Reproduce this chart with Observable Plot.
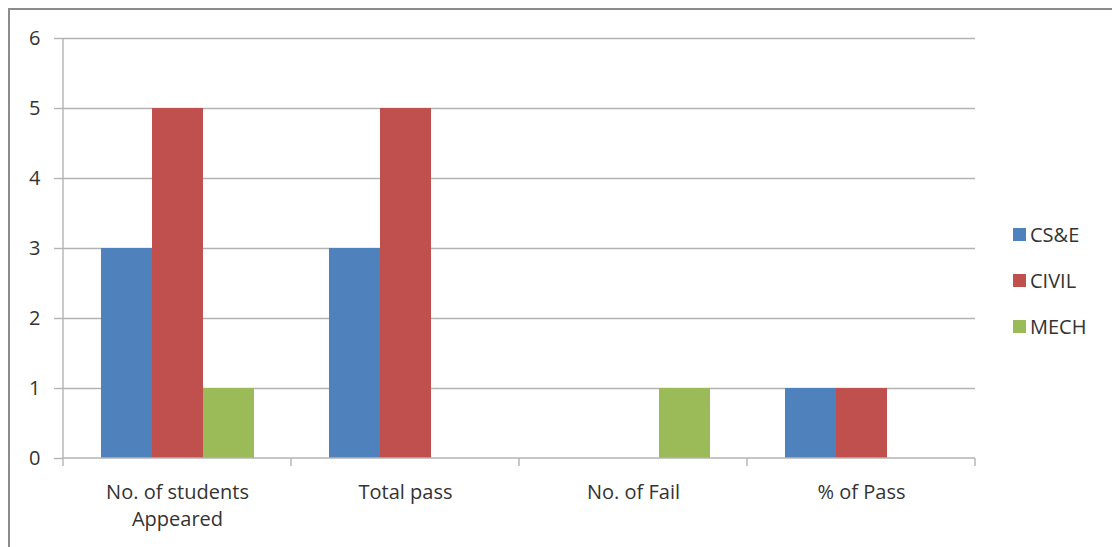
<!DOCTYPE html>
<html>
<head>
<meta charset="utf-8">
<script src="https://cdn.jsdelivr.net/npm/d3@7"></script>
<script src="https://cdn.jsdelivr.net/npm/@observablehq/plot@0.6"></script>
<style>
  html, body { margin: 0; padding: 0; background: #fff; overflow: hidden; }
  #wrap { position: relative; width: 1112px; height: 547px; overflow: hidden; font-family: "Open Sans", sans-serif; }
  #border { position: absolute; left: 8px; top: 8px; width: 1300px; height: 800px; border: 2px solid #8c8c8c; box-sizing: border-box; z-index: 5; pointer-events: none; }
  #chart { position: absolute; left: 0; top: 0; }
  #legend { position: absolute; left: 1013px; top: 211px; color: #333; font-size: 20px; z-index: 4; }
  .item { display: flex; align-items: center; height: 46px; }
  .sw { width: 13px; height: 13px; margin-right: 4px; }
</style>
</head>
<body>
<div id="wrap">
  <div id="chart"></div>
  <div id="legend"></div>
  <div id="border"></div>
</div>
<script>
const categories = ["No. of students\nAppeared", "Total pass", "No. of Fail", "% of Pass"];
const series = ["CS&E", "CIVIL", "MECH"];
const cse = [3, 3, 0, 1];
const civil = [5, 5, 0, 1];
const mech = [1, 0, 1, 0];
const colors = ["#4F81BD", "#C0504D", "#9BBB59"];
const yTicks = [0, 1, 2, 3, 4, 5, 6];

const values = [cse, civil, mech];
const data = [];
series.forEach((s, si) => categories.forEach((c, ci) => data.push({category: c, series: s, value: values[si][ci]})));

const gridColor = "#b3b3b3";
const catData = categories.map(c => ({category: c}));

const axisFrame = Plot.ruleY(catData, {
  fx: "category",
  y: 0,
  render(index, scales, vals, dimensions, context) {
    const {x, y} = scales;
    const [x0, x1] = x.range();
    const y0 = y(0);
    const g = d3.create("svg:g").attr("stroke", gridColor).attr("stroke-width", 1.4).attr("fill", "none");
    g.append("line").attr("x1", x0).attr("x2", x1).attr("y1", y0).attr("y2", y0);
    g.append("line").attr("x1", x0).attr("x2", x0).attr("y1", y0).attr("y2", y0 + 8);
    const cat = catData[index[0]] && catData[index[0]].category;
    if (cat === categories[0]) {
      g.append("line").attr("x1", x0).attr("x2", x0).attr("y1", y(yTicks[yTicks.length - 1])).attr("y2", y0);
    }
    if (cat === categories[categories.length - 1]) {
      g.append("line").attr("x1", x1).attr("x2", x1).attr("y1", y0).attr("y2", y0 + 8);
    }
    return g.node();
  }
});

const chart = Plot.plot({
  width: 1112,
  height: 547,
  marginLeft: 62,
  marginRight: 137,
  marginTop: 38,
  marginBottom: 89,
  style: {background: "transparent", fontFamily: "Open Sans, sans-serif", color: "#333", overflow: "visible"},
  fx: {domain: categories, padding: 0, label: null, axis: null},
  x: {domain: series, paddingInner: 0, paddingOuter: 0.73, axis: null},
  y: {domain: [0, 6], label: null, axis: null},
  color: {domain: series, range: colors},
  marks: [
    Plot.ruleY(yTicks.slice(1), {stroke: gridColor, strokeWidth: 1.4}),
    Plot.barY(data, {fx: "category", x: "series", y: "value", fill: "series"}),
    axisFrame,
    Plot.axisY({ticks: yTicks, tickSize: 9, tickPadding: 14, fontSize: 20, stroke: gridColor, strokeWidth: 1.4, label: null, tickFormat: d => String(d)}),
    Plot.axisFx({anchor: "bottom", tickSize: 0, tickPadding: 21, fontSize: 20, lineHeight: 1.35, label: null})
  ]
});
document.getElementById("chart").appendChild(chart);

const legend = document.getElementById("legend");
series.forEach((s, i) => {
  const item = document.createElement("div");
  item.className = "item";
  const sw = document.createElement("div");
  sw.className = "sw";
  sw.style.background = colors[i];
  const t = document.createElement("span");
  t.textContent = s;
  item.appendChild(sw);
  item.appendChild(t);
  legend.appendChild(item);
});
</script>
</body>
</html>
